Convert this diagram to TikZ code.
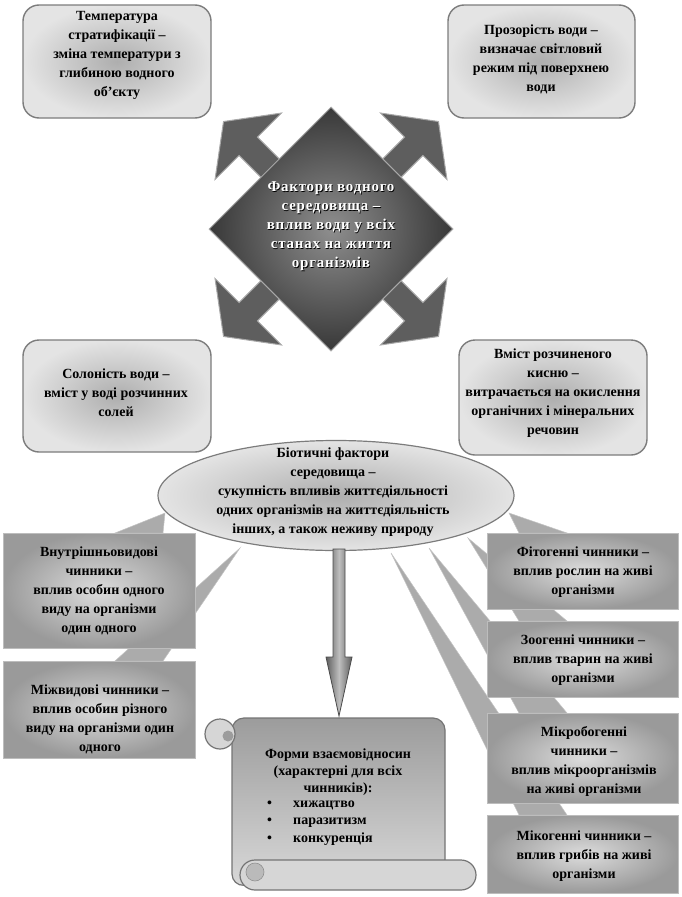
\documentclass[tikz,border=0pt]{standalone}
\usepackage{fontspec}
\setmainfont{Liberation Serif}
\usetikzlibrary{shapes.geometric}
\definecolor{rbin}{HTML}{AEAEAE}
\definecolor{rbout}{HTML}{E4E4E4}
\definecolor{rbline}{HTML}{7C7C7C}
\definecolor{cbin}{HTML}{DCDCDC}
\definecolor{cbout}{HTML}{9A9A9A}
\definecolor{cbline}{HTML}{BDBDBD}
\definecolor{tailc}{HTML}{ABABAB}
\definecolor{dmin}{HTML}{8E8E8E}
\definecolor{dmout}{HTML}{383838}
\definecolor{arrc}{HTML}{5E5E5E}
\definecolor{halo}{HTML}{A8A8A8}
\definecolor{scrtop}{HTML}{9C9C9C}
\definecolor{scrbot}{HTML}{D8D8D8}
\definecolor{scrlight}{HTML}{D6D6D6}
\definecolor{scrline}{HTML}{747474}
\tikzset{
  txt/.style={font=\bfseries\fontsize{14}{19}\selectfont, align=center, inner sep=0pt},
  diatext/.style={font=\bfseries\fontsize{15}{19}\selectfont\addfontfeature{LetterSpace=5}, align=center, inner sep=0pt},
  rbox/.style={draw=rbline, line width=1.4pt, rounded corners=16pt, inner color=rbin, outer color=rbout, inner sep=0pt},
  cbox/.style={draw=cbline, line width=0.8pt, inner color=cbin, outer color=cbout, inner sep=0pt},
  tail/.style={fill=tailc, draw=tailc!70!white, line width=0.5pt},
  diarrow/.style={fill=arrc, draw=halo, line width=1pt},
}
\begin{document}
\begin{tikzpicture}[x=1pt,y=-1pt]
\useasboundingbox (0,0) rectangle (682,897);

% ---------- diamond with four arrows ----------
\foreach \a in {45,135,225,315}{
  \begin{scope}[shift={(331,229)}, rotate=\a]
    \path[diarrow] (0,-13) -- (117,-13) -- (117,-47) -- (152,0) -- (117,47) -- (117,13) -- (0,13) -- cycle;
  \end{scope}
}
\node[diamond, minimum width=244pt, minimum height=244pt, inner sep=0pt, draw=halo, line width=1pt,
      inner color=dmin, outer color=dmout] (dia) at (331,229) {};
\node[diatext, text=black] (diash) at (331.8,226.8) {Фактори водного\\середовища –\\вплив води у всіх\\станах на життя\\організмів};
\node[diatext, text=white] (diatxt) at (331,226) {Фактори водного\\середовища –\\вплив води у всіх\\станах на життя\\організмів};

% ---------- top and middle rounded boxes ----------
\node[rbox, minimum width=188pt, minimum height=113pt] (temp) at (117,61.5) {};
\node[txt] (temptxt) at (117,55) {Температура\\стратифікації –\\зміна температури з\\глибиною водного\\об'єкту};

\node[rbox, minimum width=187pt, minimum height=113pt] (proz) at (541.5,61.5) {};
\node[txt] (proztxt) at (541,59) {Прозорість води –\\визначає світловий\\режим під поверхнею\\води};

\node[rbox, minimum width=188pt, minimum height=112pt] (sol) at (117,396) {};
\node[txt] (soltxt) at (116,393) {Солоність води –\\вміст у воді розчинних\\солей};

\node[rbox, minimum width=188pt, minimum height=115pt] (kys) at (553,397.5) {};
\node[txt] (kystxt) at (553,393) {Вміст розчиненого\\кисню –\\витрачається на окислення\\органічних і мінеральних\\речовин};

% ---------- callout tails ----------
\coordinate (tb1) at (165,513);
\coordinate (tb2) at (240,548);
\coordinate (tf1) at (509,513);
\coordinate (tf2) at (468,538);
\coordinate (tf3) at (429,548);
\coordinate (tf4) at (391,553);
\coordinate (b1l) at (115,533); \coordinate (b1r) at (163,533);
\coordinate (b2l) at (115,661); \coordinate (b2r) at (163,661);
\coordinate (f1l) at (519,533); \coordinate (f1r) at (567,533);
\coordinate (f2l) at (519,621); \coordinate (f2r) at (567,621);
\coordinate (f3l) at (519,713); \coordinate (f3r) at (567,713);
\coordinate (f4l) at (519,815); \coordinate (f4r) at (567,815);
\path[tail] (tb1) -- (b1l) -- (b1r) -- cycle;
\path[tail] (tb2) -- (b2l) -- (b2r) -- cycle;
\path[tail] (tf1) -- (f1l) -- (f1r) -- cycle;
\path[tail] (tf2) -- (f2l) -- (f2r) -- cycle;
\path[tail] (tf3) -- (f3l) -- (f3r) -- cycle;
\path[tail] (tf4) -- (f4l) -- (f4r) -- cycle;

% ---------- ellipse ----------
\node[ellipse, minimum width=356pt, minimum height=110pt, inner sep=0pt, draw=rbline, line width=1.2pt,
      inner color=rbin, outer color=rbout] (bio) at (336,495.5) {};
\node[txt] (biotxt) at (333,492.5) {Біотичні фактори\\середовища –\\сукупність впливів життєдіяльності\\одних організмів на життєдіяльність\\інших, а також неживу природу};

% ---------- callout boxes ----------
\node[cbox, minimum width=192pt, minimum height=115pt] (b1) at (99,590.5) {};
\node[txt] (b1txt) at (99,591) {Внутрішньовидові\\чинники –\\вплив особин одного\\виду на організми\\один одного};

\node[cbox, minimum width=192pt, minimum height=97pt] (b2) at (99,709.5) {};
\node[txt] (b2txt) at (100,719.5) {Міжвидові чинники –\\вплив особин різного\\виду на організми один\\одного};

\node[cbox, minimum width=191pt, minimum height=76pt] (f1) at (582.5,571) {};
\node[txt] (f1txt) at (583,572.5) {Фітогенні чинники –\\вплив рослин на живі\\організми};

\node[cbox, minimum width=191pt, minimum height=76pt] (f2) at (582.5,659) {};
\node[txt] (f2txt) at (583,660) {Зоогенні чинники –\\вплив тварин на живі\\організми};

\node[cbox, minimum width=191pt, minimum height=90pt] (f3) at (582.5,758) {};
\node[txt] (f3txt) at (584,761) {Мікробогенні\\чинники –\\вплив мікроорганізмів\\на живі організми};

\node[cbox, minimum width=191pt, minimum height=78pt] (f4) at (582.5,854) {};
\node[txt] (f4txt) at (584,856) {Мікогенні чинники –\\вплив грибів на живі\\організми};

% ---------- scroll ----------
\path[draw=scrline, line width=1.2pt, top color=scrtop, bottom color=scrbot, rounded corners=12pt]
  (232,886) -- (232,718) -- (445,718) -- (445,874) -- cycle;
\node[circle, minimum size=30pt, inner sep=0pt, fill=scrlight, draw=scrline, line width=1.2pt] (curl) at (220,734) {};
\node[circle, minimum size=11pt, inner sep=0pt, fill=scrtop] (curlin) at (228,736) {};
\node[rectangle, rounded corners=15pt, minimum width=236pt, minimum height=30pt, inner sep=0pt,
      fill=scrlight, draw=scrline, line width=1.2pt] (roll) at (358,875) {};
\node[circle, minimum size=18pt, inner sep=0pt, fill=scrtop!70!white, draw=scrline!80!white, line width=0.6pt] (rollin) at (255,872) {};
\node[txt, font=\bfseries\fontsize{14}{17}\selectfont] (formtxt) at (338,772) {Форми взаємовідносин\\(характерні для всіх\\чинників):};
\node[txt, font=\bfseries\fontsize{14}{17.5}\selectfont, align=left, anchor=west] (listtxt) at (267,823)
  {\makebox[26pt][l]{•}хижацтво\\\makebox[26pt][l]{•}паразитизм\\\makebox[26pt][l]{•}конкуренція};

% ---------- down arrow ----------
\coordinate (dtop) at (339,549);
\coordinate (dtip) at (339,716);
\path[draw=arrc!80!black, line width=0.8pt, left color=arrc, right color=arrc, middle color=arrc!40!white]
  (333,549) -- (333,657) -- (326,657) -- (dtip) -- (352,657) -- (345,657) -- (345,549) -- cycle;
\end{tikzpicture}
\end{document}
